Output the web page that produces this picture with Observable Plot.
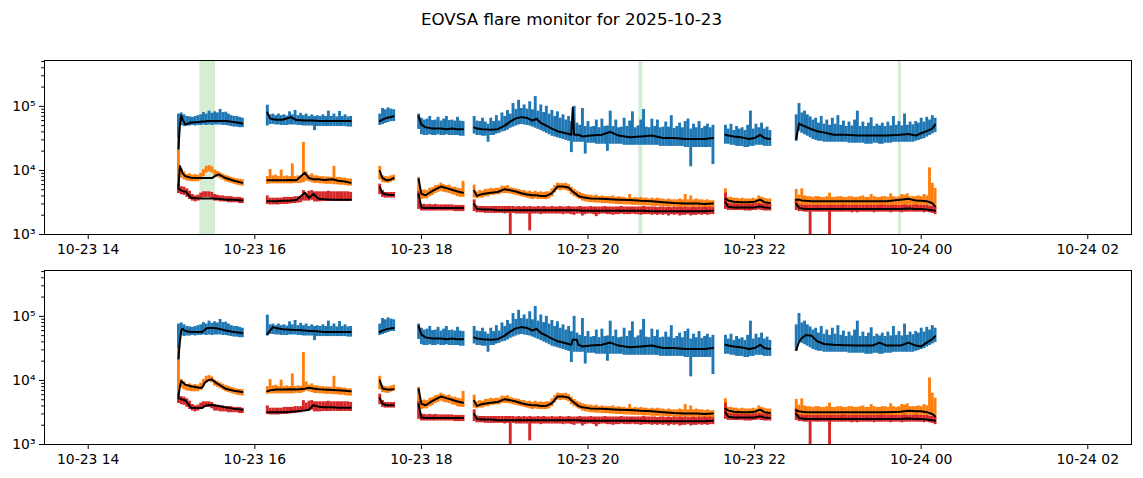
<!DOCTYPE html>
<html>
<head>
<meta charset="utf-8">
<script src="https://cdn.jsdelivr.net/npm/d3@7"></script>
<script src="https://cdn.jsdelivr.net/npm/@observablehq/plot@0.6"></script>
<style>
  html, body { margin: 0; padding: 0; background: #fff; }
  body { width: 1143px; height: 478px; overflow: hidden; font-family: "DejaVu Sans", sans-serif; }
  #title { height: 36px; line-height: 38px; text-align: center; font-size: 16.7px; color: #000; }
  svg { display: block; }
</style>
</head>
<body>
<div id="title">EOVSA flare monitor for 2025-10-23</div>
<div id="top"></div>
<div id="bottom"></div>
<script>
// ---------- data: time in minutes after 2025-10-23 14:00 UTC, values in thousands ----------
// raw channels are given as min/max per 2-minute bin, one sub-array per observing segment
const binMin = 2;
const segStartMin = [65, 129, 210, 238, 278, 459, 510];

const blueHiK = [
  [72,75,70,66,65,64,66,68,70,76,72,80,74,78,75,85,76,77,72,68,66,66,64,62],
  [99,70,72,68,72,68,70,67,78,70,82,68,74,68,72,66,70,66,68,66,70,66,80,66,72,65,79,66,70,65,66],
  [72,88,84,90,86,84],
  [72,62,58,60,66,57,58,64,56,60,66,57,58,56,64,56,55],
  [66,56,55,62,54,50,62,55,68,56, 75,66,82,72,105,85,118,88,100,86, 112,84,135,80,100,76,95,72,82,66,
   78,62,70,58,66,55,95,52,48,88, 46,55,45,46,58,44,60,46,47,80, 46,58,44,45,62,46,56,78,44,47,
   58,85,45,44,60,46,58,44,45,54, 45,68,43,46,52,44,55,60,42,50, 44,55,43,46,50,44,48],
  [48,42,50,40,46,42,44,40,48,80,42,50,44,52,42,45,40],
  [70,105,75,80,70,65,58,62,52,66, 50,58,48,62,50,68,48,56,46,54, 47,58,80,46,54,46,52,63,46,50,
   47,52,46,54,47,66,48,55,47,72, 48,54,49,55,52,62,54,64,58,68, 62]
];
const blueLoK = [
  [20,53,51,52,52,53,52,53,53,54,53,54,53,54,54,54,53,53,52,51,50,50,49,49],
  [52,55,55,54,54,53,53,53,54,54,54,53,53,52,52,52,52,44,51,51,51,51,51,51,51,51,51,51,51,50,50],
  [53,55,57,59,61,61],
  [46,38,37,37,38,37,37,38,37,37,38,37,37,37,37,36,36],
  [39,37,37,36,36,29,37,37,39,40, 42,43,45,48,50,52,54,55,54,53, 52,50,48,46,44,42,40,38,36,35,
   34,33,32,31,30,20,29,29,29,29, 19,28,28,28,27,27,27,27,21,27, 27,27,27,27,26,26,26,26,26,26,
   26,26,26,26,26,26,26,25,25,25, 25,25,25,25,25,25,24,24,12,24, 24,24,24,24,24,24,13],
  [27,27,26,26,25,25,25,24,24,25,25,26,26,26,25,25,25],
  [30,43,40,38,36,34,32,31,30,30, 29,29,29,29,29,29,29,29,29,28, 28,28,28,28,28,27,27,27,28,28,
   27,27,28,28,28,29,29,29,29,29, 29,29,29,30,31,32,33,35,37,39, 41]
];
const orangeHiK = [
  [30,9.8,9.0,8.2,8.4,8.0,8.2,8.0,8.6,9.8,11.0,11.3,10.8,9.6,9.2,8.7,8.3,7.9,7.7,7.4,7.2,7.0,6.9,6.8],
  [7.6,9.8,7.8,8.0,7.6,9.6,7.6,7.8,7.6,12.0,7.6,7.8,7.7,26,9.0,8.0,8.4,7.8,7.8,7.6,7.6,7.5,7.5,7.4,11.0,7.4,7.4,7.2,7.2,7.0,7.0],
  [11,7.8,7.6,7.5,7.8,8.0],
  [7.4,4.6,4.7,4.6,5.0,5.1,5.5,5.6,6.0,5.7,5.5,5.6,5.2,5.2,5.0,4.9,6.4],
  [5.6,4.4,4.6,4.5,4.8,4.8,5.0,4.9,5.0,5.0, 5.4,5.3,5.5,5.1,5.0,4.9,4.8,4.6,4.6,4.4, 4.5,4.3,4.5,4.3,4.4,4.3,4.4,4.4,4.9,5.5,
   6.0,5.9,5.9,6.0,5.7,5.2,4.8,4.5,4.3,4.1, 4.0,3.9,3.9,3.8,3.9,3.7,3.8,3.7,3.7,3.7, 3.8,3.6,3.7,3.6,3.6,3.5,4.0,3.5,3.6,3.5,
   3.6,3.5,3.5,3.4,3.5,3.4,3.5,3.4,3.4,3.3, 3.4,3.3,3.3,3.3,3.4,3.3,4.0,3.3,3.8,3.3, 3.4,3.3,3.3,3.2,3.3,3.2,3.2],
  [4.9,3.6,3.6,3.5,3.5,3.4,3.5,3.4,3.4,3.4,3.5,3.4,3.8,3.6,3.5,3.4,3.4],
  [4.8,3.9,4.9,3.8,3.7,3.7,3.6,3.7,3.7,3.6, 3.6,3.7,4.2,3.6,3.6,3.7,3.7,3.6,3.6,3.7, 3.7,3.6,3.6,3.7,3.8,3.6,3.6,4.0,3.7,3.6,
   3.6,3.7,3.7,3.6,4.1,3.7,3.6,3.7,4.0,3.9, 4.1,3.7,3.7,3.7,3.8,3.7,4.0,3.8,10.4,6.0, 5.0]
];
const orangeLoK = [
  [5.6,8.0,7.5,7.2,7.1,7.0,7.0,7.0,7.4,8.4,9.6,10.0,9.6,8.6,8.2,7.8,7.4,7.0,6.8,6.6,6.4,6.2,6.1,6.0],
  [6.4,6.5,6.5,6.5,6.5,6.5,6.5,6.5,6.5,6.5,6.6,6.6,6.6,6.8,7.2,7.0,6.8,6.6,6.6,6.5,6.5,6.4,6.4,6.4,6.3,6.3,6.2,6.2,6.1,6.0,6.0],
  [7.5,6.8,6.7,6.6,6.9,7.2],
  [4.0,3.7,3.8,3.8,4.1,4.3,4.6,4.8,5.0,4.8,4.7,4.6,4.4,4.3,4.1,4.0,4.0],
  [3.9,3.8,3.9,3.9,4.1,4.1,4.3,4.3,4.4,4.4, 4.6,4.6,4.6,4.5,4.4,4.3,4.2,4.1,4.0,3.9, 3.8,3.7,3.8,3.7,3.7,3.7,3.7,3.8,4.1,4.7,
   5.2,5.1,5.2,5.1,4.9,4.4,4.1,3.9,3.7,3.5, 3.4,3.35,3.3,3.3,3.25,3.25,3.2,3.2,3.2,3.15, 3.15,3.1,3.1,3.1,3.05,3.05,3.05,3.0,3.0,3.0,
   3.0,2.95,2.95,2.95,2.9,2.9,2.9,2.9,2.85,2.85, 2.85,2.85,2.8,2.8,2.8,2.8,2.8,2.8,2.8,2.8, 2.8,2.8,2.75,2.75,2.75,2.75,2.75],
  [3.2,3.1,3.05,3.0,3.0,2.95,2.95,2.95,2.95,2.95,3.0,3.0,3.1,3.1,3.0,2.95,2.9],
  [3.1,3.0,3.0,3.0,2.95,2.95,2.95,2.95,2.95,2.95, 2.95,2.95,2.95,2.95,2.95,2.95,2.95,2.95,2.95,2.95, 2.95,2.95,2.95,2.95,2.95,2.95,2.95,2.95,2.95,2.95,
   2.95,2.95,2.95,2.95,2.95,2.95,2.95,3.0,3.0,3.0, 3.0,3.0,3.0,3.0,3.0,3.0,3.0,3.0,3.0,2.9, 2.7]
];
const redHiK = [
  [5.8,5.3,5.2,4.9,4.5,4.0,3.8,3.9,4.2,4.4,4.4,4.4,4.3,4.0,3.9,3.8,3.8,3.7,3.7,3.7,3.6,3.6,3.6,3.5],
  [3.8,3.5,3.5,3.5,3.5,3.5,3.6,3.6,3.6,3.6, 3.7,3.7,3.7,4.6,4.2,4.5,4.6,4.4,4.4,4.4, 4.4,4.4,4.5,4.4,4.4,4.4,4.4,4.4,4.4,4.4, 4.3],
  [5.8,4.6,4.3,4.3,4.3,4.3],
  [4.4,2.8,2.8,2.75,2.8,2.75,2.8,2.75,2.75,2.75,2.75,2.75,2.75,2.7,2.7,2.7,2.7],
  [3.3,2.65,2.6,2.6,2.6,2.6,2.6,2.6,2.6,2.6, 2.6,2.6,2.6,2.6,2.6,2.55,2.6,2.55,2.6,2.55, 2.6,2.55,2.55,2.6,2.55,2.6,2.55,2.55,2.6,2.55,
   2.55,2.6,2.55,2.55,2.6,2.55,2.55,2.55,2.6,2.55, 2.55,2.55,2.6,2.55,2.55,2.55,2.55,2.6,2.55,2.55, 2.55,2.55,2.55,2.6,2.55,2.55,2.55,2.55,2.55,2.55,
   2.55,2.6,2.55,2.55,2.55,2.55,2.5,2.55,2.55,2.5, 2.55,2.5,2.55,2.5,2.55,2.5,2.55,2.5,2.5,2.55, 2.5,2.55,2.5,2.55,2.5,2.55,2.5],
  [4.2,2.9,2.85,2.85,2.85,2.8,2.8,2.8,2.8,2.8,2.85,2.85,2.9,2.85,2.8,2.8,2.75],
  [3.4,2.75,2.75,2.7,2.7,2.7,2.7,2.7,2.7,2.7, 2.7,2.7,2.7,2.7,2.7,2.7,2.7,2.75,2.7,2.7, 2.7,2.7,2.7,2.7,2.7,2.7,2.7,2.7,2.7,2.7,
   2.7,2.75,2.7,2.7,2.7,2.7,2.7,2.7,2.7,2.75, 2.7,2.7,2.7,2.75,2.7,2.7,2.7,2.7,2.65,2.6, 2.55]
];
const redLoK = [
  [4.6,4.4,4.3,4.0,3.7,3.5,3.4,3.5,3.8,4.0,4.0,4.0,3.8,3.5,3.5,3.4,3.4,3.4,3.3,3.3,3.3,3.3,3.2,3.2],
  [3.1,3.05,3.05,3.05,3.05,3.1,3.1,3.1,3.15,3.2, 3.2,3.25,3.3,3.5,3.5,3.5,3.6,3.4,3.4,3.4, 3.45,3.45,3.45,3.45,3.45,3.45,3.45,3.45,3.45,3.45, 3.45],
  [4.4,4.0,3.9,3.9,3.9,3.9],
  [2.6,2.45,2.45,2.45,2.45,2.45,2.45,2.45,2.45,2.45,2.45,2.45,2.45,2.4,2.4,2.4,2.4],
  [2.4,2.3,2.3,2.3,2.25,2.25,2.25,2.25,2.25,2.25, 2.25,2.2,2.25,0.8,2.25,2.2,2.2,2.2,2.2,2.2, 1.2,2.2,2.2,2.2,2.15,2.2,2.2,2.2,2.2,2.2,
   2.2,2.2,2.15,2.2,2.2,2.15,2.1,2.2,2.2,2.05, 2.15,2.2,2.2,2.15,2.0,2.15,2.2,2.2,2.15,2.15, 2.1,2.15,2.15,2.2,2.15,2.15,2.15,2.2,2.15,2.15,
   2.1,2.15,2.15,2.15,2.1,2.15,2.1,2.15,2.1,2.15, 2.05,2.15,2.1,2.15,2.05,2.1,2.1,2.15,2.05,2.1, 2.1,2.15,2.1,2.15,2.1,2.15,2.15],
  [2.6,2.5,2.5,2.5,2.5,2.5,2.5,2.45,2.45,2.45,2.5,2.5,2.55,2.5,2.45,2.45,2.45],
  [2.5,2.4,2.4,2.35,2.35,0.8,2.35,2.35,2.35,2.35, 2.35,2.35,0.8,2.35,2.35,2.35,2.35,2.35,2.35,2.35, 2.3,2.35,2.3,2.35,2.35,2.35,2.35,2.35,2.3,2.35,
   2.35,2.35,2.35,2.35,2.3,2.35,2.35,2.35,2.3,2.35, 2.35,2.35,2.35,2.35,2.35,2.35,2.3,2.35,2.3,2.25, 2.15]
];

// black curves: sample times per segment
const curveMin = [
  [65,66,67,68,70,74,80,82,84,86,89,92,94,99,105,111],
  [129,131,133,136,140,146,150,156,159,162,166,170,176,180,185,189],
  [210,212,215,218,220],
  [238,240,243,248,254,258,262,266,270],
  [278,280,284,290,295,300,304,308,312,316,320,323,326,330,334,338,342,346,348,349,350,352,353,356,362,370,376,382,390,398,406,414,422,430,438,444,450],
  [459,461,465,470,476,480,484,487,491],
  [510,512,514,517,521,525,530,537,545,555,565,570,575,585,591,596,600,604,608,610]
];
// top panel: background estimate (flat through flare intervals)
const bgBlueK = [
  [22,50,72,62,52,56,57,58,58,59,59,59,59,59,57,54],
  [80,65,63,62,62,68,61,60,60,60,59,59,59,59,59,59],
  [59,62,66,68,70],
  [70,52,47,45,45,44,45,44,44],
  [47,45,44,43,44,50,58,65,68,66,60,64,55,50,45,41,39,37,36,95,36,36,36,34,35,36,40,35,33,34,35,32,32,31,31,31,32],
  [36,35,34,33,31,32,36,32,31],
  [31,54,51,48,44,41,39,36,36,35,35,35,35,36,37,35,38,41,45,52]
];
const bgOrangeK = [
  [5.7,11.7,10.5,9.0,8.1,7.7,7.6,7.6,7.6,7.6,7.6,8.3,8.7,7.6,6.9,6.4],
  [7.0,7.0,7.0,7.0,7.0,7.1,7.0,9.2,7.6,7.3,7.3,7.1,7.3,6.9,6.7,6.4],
  [9.8,7.6,7.0,7.2,7.6],
  [7.3,4.3,4.1,4.8,5.6,5.3,5.0,4.7,4.5],
  [4.8,4.0,4.3,4.5,4.6,5.1,4.9,4.7,4.4,4.2,4.1,4.1,4.0,4.0,4.4,5.6,5.6,5.4,4.9,4.7,4.5,4.2,4.0,3.8,3.65,3.6,3.55,3.5,3.45,3.35,3.3,3.2,3.1,3.05,3.05,3.0,3.05],
  [3.6,3.4,3.25,3.2,3.2,3.25,3.5,3.2,3.1],
  [3.5,3.5,3.4,3.35,3.3,3.3,3.3,3.3,3.3,3.3,3.3,3.3,3.3,3.5,3.6,3.4,3.35,3.3,3.1,2.75]
];
const bgRedK = [
  [5.3,5.0,4.9,4.75,4.7,3.75,3.65,3.65,3.65,3.65,3.65,3.6,3.6,3.5,3.5,3.4],
  [3.3,3.3,3.3,3.3,3.35,3.4,3.45,4.5,3.7,4.3,3.6,3.55,3.5,3.5,3.5,3.5],
  [5.5,4.4,4.2,4.15,4.15],
  [4.2,2.65,2.6,2.6,2.6,2.6,2.6,2.6,2.6],
  [3.0,2.5,2.45,2.45,2.4,2.4,2.4,2.4,2.4,2.4,2.4,2.4,2.4,2.4,2.4,2.4,2.4,2.4,2.4,2.4,2.4,2.4,2.4,2.35,2.35,2.35,2.35,2.35,2.35,2.35,2.3,2.3,2.3,2.3,2.3,2.3,2.35],
  [3.2,2.7,2.65,2.65,2.65,2.65,2.75,2.65,2.6],
  [3.0,2.6,2.55,2.5,2.5,2.5,2.5,2.5,2.5,2.5,2.5,2.5,2.5,2.5,2.55,2.5,2.5,2.45,2.4,2.35]
];
// bottom panel: running smooth
const smBlueK = [
  [22,40,60,64,59,57,57,57,62,66,66,65,64,60,57,55],
  [53,60,68,65,63,62,61,60,59,59,58,57,57,57,57,57],
  [57,60,63,65,66],
  [70,52,47,45,45,44,45,44,44],
  [47,45,44,43,44,50,58,65,68,66,60,64,55,50,45,41,39,37,36,43,43,43,36,34,35,36,39,35,33,34,35,32,32,31,31,31,32],
  [36,35,34,33,31,32,36,32,31],
  [30,40,46,51,50,41,37,36,35.5,35,35,39,35,35,39,35,34,39,44,49]
];
const smOrangeK = [
  [5.7,8.0,9.8,9.4,8.6,8.1,7.7,7.7,9.2,10.0,10.4,9.2,8.7,7.4,6.9,6.6],
  [6.8,7.0,7.1,7.2,7.2,7.3,7.2,7.4,7.7,7.5,7.3,7.2,7.1,7.0,6.9,6.8],
  [10,7.5,7.2,7.2,7.3],
  [7.3,4.3,4.1,4.8,5.6,5.3,5.0,4.7,4.5],
  [4.8,4.0,4.3,4.5,4.6,5.1,4.9,4.7,4.4,4.2,4.1,4.1,4.0,4.0,4.4,5.6,5.6,5.4,4.9,4.7,4.5,4.2,4.0,3.8,3.65,3.6,3.55,3.5,3.45,3.35,3.3,3.2,3.1,3.05,3.05,3.0,3.05],
  [3.6,3.4,3.25,3.2,3.2,3.25,3.5,3.2,3.1],
  [3.4,3.3,3.25,3.2,3.2,3.2,3.2,3.2,3.2,3.2,3.2,3.2,3.2,3.25,3.35,3.3,3.3,3.2,3.0,2.75]
];
const smRedK = [
  [5.3,5.2,5.1,5.0,4.9,3.75,3.7,3.7,4.0,4.1,4.15,4.05,4.0,3.8,3.6,3.5],
  [3.2,3.2,3.2,3.2,3.2,3.25,3.3,3.4,3.5,4.1,3.9,3.8,3.8,3.75,3.75,3.75],
  [5.3,4.3,4.1,4.1,4.1],
  [4.2,2.65,2.6,2.6,2.6,2.6,2.6,2.6,2.6],
  [3.0,2.5,2.45,2.45,2.4,2.4,2.4,2.4,2.4,2.4,2.4,2.4,2.4,2.4,2.4,2.4,2.4,2.4,2.4,2.4,2.4,2.4,2.4,2.35,2.35,2.35,2.35,2.35,2.35,2.35,2.3,2.3,2.3,2.3,2.3,2.3,2.35],
  [3.2,2.7,2.65,2.65,2.65,2.65,2.75,2.65,2.6],
  [3.0,2.6,2.55,2.5,2.5,2.5,2.5,2.5,2.5,2.5,2.5,2.5,2.5,2.5,2.55,2.5,2.5,2.45,2.4,2.35]
];

// flare intervals (minutes after 14:00)
const flareStartMin = [80.4, 396.6, 583.7];
const flareEndMin   = [91.7, 399.5, 585.8];

// axes
const xDomainMin = [-31.5, 751.5];
const xTickMin = [0, 120, 240, 360, 480, 600, 720];
const yDomain = [1e3, 5.2e5];
const yMajor = [1e3, 1e4, 1e5];
const yMinor = [2e3,3e3,4e3,5e3,6e3,7e3,8e3,9e3,2e4,3e4,4e4,5e4,6e4,7e4,8e4,9e4,2e5,3e5,4e5,5e5];

// ---------- build tables ----------
const START = Date.UTC(2025, 9, 23, 14, 0);
const at = m => new Date(START + m * 60000);

function binRows(hi, lo) {
  const rows = [];
  hi.forEach((seg, s) => seg.forEach((v, i) =>
    rows.push({t: at(segStartMin[s] + binMin * i), hi: v * 1000, lo: lo[s][i] * 1000, s})));
  return rows;
}
function curveRows(series) {
  const rows = [];
  series.forEach((seg, s) => seg.forEach((v, i) =>
    rows.push({t: at(curveMin[s][i]), v: v * 1000, s})));
  return rows;
}
const flares = flareStartMin.map((a, i) => ({t1: at(a), t2: at(flareEndMin[i])}));

const supDigit = {"3": "\u00b3", "4": "\u2074", "5": "\u2075"};
const fmtY = d => "10" + supDigit[String(Math.round(Math.log10(d)))];
const fmtX = d3.utcFormat("%m-%d %H");

const C = {blue: "#1f77b4", orange: "#ff7f0e", red: "#d62728", green: "#2ca02c"};

function panel(curves, showFlares, layout) {
  const raw = (hi, lo, color) => Plot.ruleX(binRows(hi, lo), {
    x: "t", y1: "lo", y2: "hi", stroke: color, strokeWidth: 2.9, strokeLinecap: "square", clip: true
  });
  const curve = data => Plot.line(curveRows(data), {
    x: "t", y: "v", z: "s", stroke: "#000", strokeWidth: 2, clip: true
  });
  return Plot.plot({
    width: 1143,
    height: layout.height,
    marginLeft: 44, marginRight: 12,
    marginTop: layout.marginTop, marginBottom: layout.marginBottom,
    style: {fontFamily: "DejaVu Sans", fontSize: "13.9px", background: "#fff", color: "#000"},
    x: {type: "utc", domain: xDomainMin.map(at), label: null},
    y: {type: "log", domain: yDomain, label: null},
    marks: [
      showFlares ? Plot.rect(flares, {x1: "t1", x2: "t2", fill: C.green, fillOpacity: 0.2}) : null,
      raw(blueHiK, blueLoK, C.blue),
      raw(orangeHiK, orangeLoK, C.orange),
      raw(redHiK, redLoK, C.red),
      curve(curves[0]),
      curve(curves[1]),
      curve(curves[2]),
      Plot.frame({stroke: "#000", strokeWidth: 1}),
      Plot.axisX({ticks: xTickMin.map(at), tickFormat: fmtX, tickSize: 5, tickPadding: 5, label: null}),
      Plot.axisY({ticks: yMajor, tickFormat: fmtY, tickSize: 5, tickPadding: 4, label: null}),
      Plot.axisY({ticks: yMinor, tickFormat: () => "", tickSize: 2.8, label: null})
    ]
  });
}

document.getElementById("top").append(
  panel([bgBlueK, bgOrangeK, bgRedK], true, {height: 222, marginTop: 24, marginBottom: 24}));
document.getElementById("bottom").append(
  panel([smBlueK, smOrangeK, smRedK], false, {height: 220, marginTop: 12, marginBottom: 34}));
</script>
</body>
</html>
